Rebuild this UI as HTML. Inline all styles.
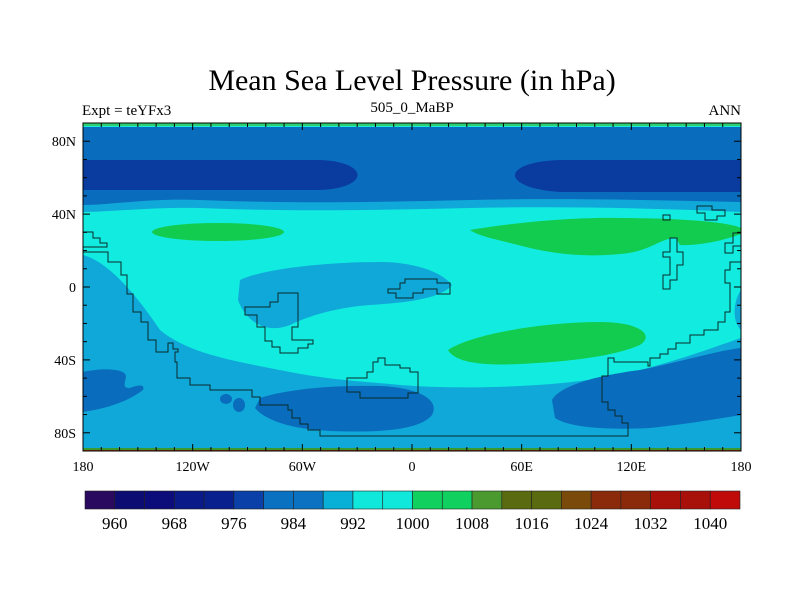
<!DOCTYPE html>
<html><head><meta charset="utf-8"><title>Mean Sea Level Pressure</title>
<style>
html,body{margin:0;padding:0;background:#fff;}
svg{display:block;font-family:"Liberation Serif",serif;}
</style></head>
<body>
<svg id="chart" width="800" height="600" viewBox="0 0 800 600" xmlns="http://www.w3.org/2000/svg">
  <text x="412" y="90" font-size="30" text-anchor="middle">Mean Sea Level Pressure (in hPa)</text>
  <text x="82" y="115" font-size="15">Expt = teYFx3</text>
  <text x="412" y="112" font-size="15" text-anchor="middle">505_0_MaBP</text>
  <text x="741" y="115" font-size="15" text-anchor="end">ANN</text>
  <defs><clipPath id="mapclip"><rect x="83" y="123" width="658" height="328"/></clipPath></defs>
  <g id="map" clip-path="url(#mapclip)"></g>
  <g id="coast"></g>
  <g id="axes"></g>
  <g id="cbar"></g>
</svg>
<script>
// Colorbar data
const cbarLevels = [960,964,968,972,976,980,984,988,992,996,1000,1004,1008,1012,1016,1020,1024,1028,1032,1036,1040];
const cbarLabels = [960,968,976,984,992,1000,1008,1016,1024,1032,1040];
const cbarColors = ["#2a0a5e","#0c0c72","#0c0c7a","#0a1a88","#08208e","#0a40a8","#0a70c0","#0a72c0","#08b0d8","#10e8dc","#10e8dc","#10d060","#10d060","#4a9a30","#5a6a10","#5a6a10","#7a4a0a","#8a2a0a","#8a2a0a","#a8100a","#a8100a","#c00a0a"];
const lonTicks = [-180,-120,-60,0,60,120,180];
const lonTickLabels = ["180","120W","60W","0","60E","120E","180"];
const latTicks = [80,40,0,-40,-80];
const latTickLabels = ["80N","40N","0","40S","80S"];

const NS="http://www.w3.org/2000/svg";
const X = lon => 83 + (lon+180)*658/360;
const Y = lat => 123 + (90-lat)*328/180;
function mk(tag, attrs, parent){const e=document.createElementNS(NS,tag);for(const k in attrs)e.setAttribute(k,attrs[k]);parent.appendChild(e);return e;}

const C={mid:"#0a6cbc",dark:"#0a3ca0",cyan:"#12ece0",green:"#12cc50",light:"#10a8d8"};
const map=document.getElementById('map');
let e;
e=mk('rect',{x:83,y:123,width:658,height:328,fill:C.cyan},map);


// Northern light-blue then mid-blue band
e=mk('path',{d:"M83,127 L741,127 L741,212 C650,208 560,206 470,208 C380,210 300,212 200,208 C150,207 110,212 83,212 Z",fill:C.light},map);


e=mk('path',{d:"M83,127 L741,127 L741,202 C650,200 560,198 470,200 C380,202 300,204 200,200 C150,198 110,205 83,205 Z",fill:C.mid},map);


e=mk('path',{d:"M83,160 L320,160 C370,162 370,188 320,190 L83,190 Z",fill:C.dark},map);


e=mk('path',{d:"M741,160 L560,160 C500,162 500,188 560,192 L741,192 Z",fill:C.dark},map);


// Green highs
e=mk('ellipse',{cx:218,cy:232,rx:66,ry:9,fill:C.green},map);


e=mk('path',{d:"M470,230 C500,225 560,217 620,218 C680,218 730,222 741,228 L741,234 C725,240 700,246 680,245 L676,238 C660,238 650,252 620,254 C590,257 560,255 530,248 C500,240 480,237 470,230 Z",fill:C.green},map);


// Southern light blue
e=mk('path',{d:"M83,255 C110,262 140,300 160,330 C190,355 240,362 290,372 C330,380 370,382 400,385 C440,388 480,388 520,386 C560,384 600,380 640,370 C680,360 720,345 741,338 L741,290 C734,300 731,320 741,330 L741,451 L83,451 Z",fill:C.light},map);


e=mk('path',{d:"M240,280 C260,270 320,262 380,262 C410,262 440,270 452,285 C440,300 400,303 370,305 C340,307 310,315 290,325 C265,335 245,320 238,300 Z",fill:C.light},map);


e=mk('path',{d:"M448,350 C470,335 540,322 600,322 C640,322 655,335 640,345 C610,358 560,362 520,364 C480,366 455,362 448,350 Z",fill:C.green},map);


// Southern mid-blue lows
e=mk('path',{d:"M260,398 C290,388 340,385 380,386 C420,388 440,400 432,415 C420,430 380,433 330,431 C290,429 265,420 255,408 Z",fill:C.mid},map);


e=mk('path',{d:"M552,400 C560,385 600,375 640,370 C680,362 720,350 741,348 L741,415 C710,420 680,425 650,428 C610,430 570,428 555,418 Z",fill:C.mid},map);


e=mk('path',{d:"M83,372 C100,368 125,368 126,376 C125,384 122,388 130,388 C140,384 145,385 143,390 C130,400 110,408 83,412 Z",fill:C.mid},map);


e=mk('ellipse',{cx:226,cy:399,rx:6,ry:5,fill:C.mid},map);


e=mk('ellipse',{cx:239,cy:405,rx:6,ry:7,fill:C.mid},map);


// polar edge strips
e=mk('rect',{x:83,y:123,width:658,height:3,fill:"#2ecf70"},map);


e=mk('rect',{x:83,y:448,width:658,height:2,fill:"#3a9a30"},map);


e=mk('rect',{x:83,y:450,width:658,height:1,fill:"#a03010"},map);



// Coastlines (stair-stepped outlines)
const coast=document.getElementById('coast');
function stairs(pts,close){let d="M"+pts[0][0]+","+pts[0][1];for(let i=1;i<pts.length;i++){d+=" L"+pts[i][0]+","+pts[i-1][1]+" L"+pts[i][0]+","+pts[i][1];}if(close)d+=" L"+pts[0][0]+","+pts[pts.length-1][1]+" Z";return d;}
function cl(d,name){const p=mk('path',{d:d,fill:"none",stroke:"#0a2a2a","stroke-width":1},coast);}
cl("M83,232 L93,232 L93,238 L100,238 L100,243 L107,243 L107,247 L83,247","coast-nw-fragment");
cl(stairs([[83,252],[108,262],[121,275],[127,294],[133,312],[141,322],[148,340],[156,352],[168,343],[173,349],[178,352],[175,362],[177,378],[190,385],[210,390],[252,397],[260,405],[288,410],[292,418],[300,424],[308,430],[320,436],[628,423],[622,416],[615,410],[608,402],[602,376],[608,358],[614,362],[648,366],[650,358],[660,354],[668,349],[676,343],[690,335],[704,330],[718,322],[725,312],[730,283],[725,270],[730,262],[741,250]]),"coast-south-continent");
cl("M245,307 L270,307 L270,302 L278,302 L278,293 L298,293 L298,327 L292,327 L292,340 L313,340 L313,344 L308,344 L308,348 L298,348 L298,353 L280,353 L280,347 L272,347 L272,341 L265,341 L265,327 L257,327 L257,315 L245,315 Z","coast-southern-africa-like");
cl("M347,385 L347,378 L367,378 L367,372 L373,372 L373,362 L378,362 L378,358 L385,358 L385,365 L400,365 L400,368 L410,368 L410,372 L418,372 L418,393 L408,393 L408,398 L360,398 L360,392 L347,392 Z","coast-south-island");
cl("M388,289 L388,293 L396,293 L396,298 L413,298 L413,293 L423,293 L423,289 L437,289 L437,294 L450,294 L450,283 L437,283 L437,279 L405,279 L405,283 L400,283 L400,289 Z","coast-equatorial-island");
cl("M697,206 L712,206 L712,210 L725,210 L725,216 L717,216 L717,220 L705,220 L705,213 L697,213 Z","coast-ne-box");
cl("M663,215 L670,215 L670,220 L663,220 Z","coast-ne-small");
cl("M670,238 L677,238 L677,252 L683,252 L683,265 L677,265 L677,280 L670,280 L670,289 L663,289 L663,275 L670,275 L670,257 L663,257 L663,252 L670,252 Z","coast-east-strip");
cl("M741,233 L733,233 L733,243 L725,243 L725,253 L733,253 L733,246 L741,246","coast-east-edge");

// Axes
const ax=document.getElementById('axes');
e=mk('rect',{x:83,y:123,width:658,height:328,fill:"none",stroke:"#000","stroke-width":1},ax);


for(let lon=-180;lon<=180;lon+=10){const x=X(lon);const major=(lon%60===0);const L=major?7:4;
  e=mk('line',{x1:x,y1:451,x2:x,y2:451-L,stroke:"#000","stroke-width":1},ax);
  
  
  e=mk('line',{x1:x,y1:123,x2:x,y2:123+L,stroke:"#000","stroke-width":1},ax);
  
  }
for(let lat=-90;lat<=90;lat+=10){const y=Y(lat);const major=(lat%40===0);const L=major?7:4;
  e=mk('line',{x1:83,y1:y,x2:83+L,y2:y,stroke:"#000","stroke-width":1},ax);
  
  
  e=mk('line',{x1:741,y1:y,x2:741-L,y2:y,stroke:"#000","stroke-width":1},ax);
  
  }
lonTicks.forEach((lon,i)=>{const t=mk('text',{x:X(lon),y:471,"font-size":14,"text-anchor":"middle"},ax);t.textContent=lonTickLabels[i];
  
  });
latTicks.forEach((lat,i)=>{const t=mk('text',{x:76,y:Y(lat)+5,"font-size":14,"text-anchor":"end"},ax);t.textContent=latTickLabels[i];
  
  });

// Colorbar
const cb=document.getElementById('cbar');
const cbX0=85,cbX1=740,cbY=491,cbH=18;const n=cbarColors.length;const bw=(cbX1-cbX0)/n;
const levelX = v => cbX0 + (cbarLevels.indexOf(v)+1)*bw;
cbarColors.forEach((c,i)=>{const r=mk('rect',{x:cbX0+i*bw,y:cbY,width:bw,height:cbH,fill:c,stroke:"#222","stroke-width":0.6},cb);
  
  });
cbarLabels.forEach(v=>{const t=mk('text',{x:levelX(v),y:529,"font-size":17,"text-anchor":"middle"},cb);t.textContent=v;
  
  });
</script>
</body></html>
